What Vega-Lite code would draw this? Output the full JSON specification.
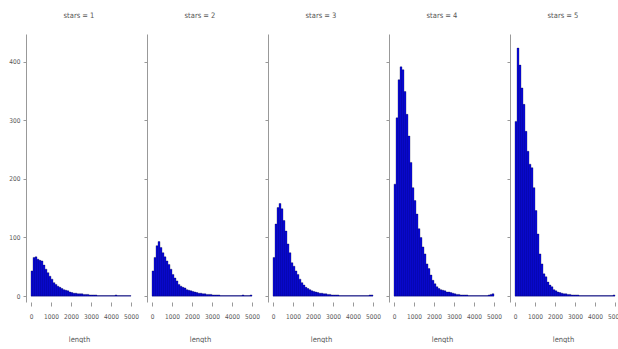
{
  "$schema": "https://vega.github.io/schema/vega-lite/v6.json",
  "padding": {"left": 8, "top": 11, "right": 0, "bottom": 0},
  "bounds": "flush",
  "config": {
    "view": {"stroke": null},
    "font": "DejaVu Sans Condensed, Liberation Sans, sans-serif",
    "axis": {"labelFont": "DejaVu Sans Condensed, Liberation Sans, sans-serif", "titleFont": "DejaVu Sans Condensed, Liberation Sans, sans-serif", "labelFontSize": 6.5, "labelColor": "#555", "tickColor": "#999", "domainColor": "#999", "grid": false, "tickSize": 3, "labelPadding": 3, "labelOverlap": false, "labelFlush": false, "format": "d"},
    "axisX": {"tickSize": 4, "labelPadding": 7, "titlePadding": 16},
    "title": {"font": "DejaVu Sans Condensed, Liberation Sans, sans-serif", "fontSize": 7.5, "fontWeight": "normal", "color": "#555", "offset": 15}
  },
  "data": {"values": [
    {"stars":1,"lo":0,"hi":100,"count":43},{"stars":1,"lo":100,"hi":200,"count":66},{"stars":1,"lo":200,"hi":300,"count":67},{"stars":1,"lo":300,"hi":400,"count":63},{"stars":1,"lo":400,"hi":500,"count":61},{"stars":1,"lo":500,"hi":600,"count":60},{"stars":1,"lo":600,"hi":700,"count":53},{"stars":1,"lo":700,"hi":800,"count":46},{"stars":1,"lo":800,"hi":900,"count":40},{"stars":1,"lo":900,"hi":1000,"count":34},
    {"stars":1,"lo":1000,"hi":1100,"count":29},{"stars":1,"lo":1100,"hi":1200,"count":23},{"stars":1,"lo":1200,"hi":1300,"count":20},{"stars":1,"lo":1300,"hi":1400,"count":17},{"stars":1,"lo":1400,"hi":1500,"count":15},{"stars":1,"lo":1500,"hi":1600,"count":13},{"stars":1,"lo":1600,"hi":1700,"count":11},{"stars":1,"lo":1700,"hi":1800,"count":10},{"stars":1,"lo":1800,"hi":1900,"count":9},{"stars":1,"lo":1900,"hi":2000,"count":7},
    {"stars":1,"lo":2000,"hi":2100,"count":6},{"stars":1,"lo":2100,"hi":2200,"count":5},{"stars":1,"lo":2200,"hi":2300,"count":5},{"stars":1,"lo":2300,"hi":2400,"count":4},{"stars":1,"lo":2400,"hi":2500,"count":4},{"stars":1,"lo":2500,"hi":2600,"count":4},{"stars":1,"lo":2600,"hi":2700,"count":3},{"stars":1,"lo":2700,"hi":2800,"count":3},{"stars":1,"lo":2800,"hi":2900,"count":3},{"stars":1,"lo":2900,"hi":3000,"count":2},
    {"stars":1,"lo":3000,"hi":3100,"count":2},{"stars":1,"lo":3100,"hi":3200,"count":2},{"stars":1,"lo":3200,"hi":3300,"count":2},{"stars":1,"lo":3300,"hi":3400,"count":1},{"stars":1,"lo":3400,"hi":3500,"count":1},{"stars":1,"lo":3500,"hi":3600,"count":1},{"stars":1,"lo":3600,"hi":3700,"count":1},{"stars":1,"lo":3700,"hi":3800,"count":1},{"stars":1,"lo":3800,"hi":3900,"count":1},{"stars":1,"lo":3900,"hi":4000,"count":1},
    {"stars":1,"lo":4000,"hi":4100,"count":1},{"stars":1,"lo":4100,"hi":4200,"count":1},{"stars":1,"lo":4200,"hi":4300,"count":2},{"stars":1,"lo":4300,"hi":4400,"count":1},{"stars":1,"lo":4400,"hi":4500,"count":1},{"stars":1,"lo":4500,"hi":4600,"count":1},{"stars":1,"lo":4600,"hi":4700,"count":1},{"stars":1,"lo":4700,"hi":4800,"count":1},{"stars":1,"lo":4800,"hi":4900,"count":1},{"stars":1,"lo":4900,"hi":5000,"count":1},

    {"stars":2,"lo":0,"hi":100,"count":43},{"stars":2,"lo":100,"hi":200,"count":66},{"stars":2,"lo":200,"hi":300,"count":86},{"stars":2,"lo":300,"hi":400,"count":93},{"stars":2,"lo":400,"hi":500,"count":83},{"stars":2,"lo":500,"hi":600,"count":74},{"stars":2,"lo":600,"hi":700,"count":67},{"stars":2,"lo":700,"hi":800,"count":60},{"stars":2,"lo":800,"hi":900,"count":54},{"stars":2,"lo":900,"hi":1000,"count":46},
    {"stars":2,"lo":1000,"hi":1100,"count":37},{"stars":2,"lo":1100,"hi":1200,"count":31},{"stars":2,"lo":1200,"hi":1300,"count":26},{"stars":2,"lo":1300,"hi":1400,"count":20},{"stars":2,"lo":1400,"hi":1500,"count":17},{"stars":2,"lo":1500,"hi":1600,"count":15},{"stars":2,"lo":1600,"hi":1700,"count":14},{"stars":2,"lo":1700,"hi":1800,"count":11},{"stars":2,"lo":1800,"hi":1900,"count":10},{"stars":2,"lo":1900,"hi":2000,"count":9},
    {"stars":2,"lo":2000,"hi":2100,"count":8},{"stars":2,"lo":2100,"hi":2200,"count":7},{"stars":2,"lo":2200,"hi":2300,"count":6},{"stars":2,"lo":2300,"hi":2400,"count":5},{"stars":2,"lo":2400,"hi":2500,"count":5},{"stars":2,"lo":2500,"hi":2600,"count":4},{"stars":2,"lo":2600,"hi":2700,"count":4},{"stars":2,"lo":2700,"hi":2800,"count":3},{"stars":2,"lo":2800,"hi":2900,"count":3},{"stars":2,"lo":2900,"hi":3000,"count":3},
    {"stars":2,"lo":3000,"hi":3100,"count":2},{"stars":2,"lo":3100,"hi":3200,"count":2},{"stars":2,"lo":3200,"hi":3300,"count":2},{"stars":2,"lo":3300,"hi":3400,"count":2},{"stars":2,"lo":3400,"hi":3500,"count":1},{"stars":2,"lo":3500,"hi":3600,"count":1},{"stars":2,"lo":3600,"hi":3700,"count":1},{"stars":2,"lo":3700,"hi":3800,"count":1},{"stars":2,"lo":3800,"hi":3900,"count":1},{"stars":2,"lo":3900,"hi":4000,"count":1},
    {"stars":2,"lo":4000,"hi":4100,"count":1},{"stars":2,"lo":4100,"hi":4200,"count":1},{"stars":2,"lo":4200,"hi":4300,"count":1},{"stars":2,"lo":4300,"hi":4400,"count":1},{"stars":2,"lo":4400,"hi":4500,"count":1},{"stars":2,"lo":4500,"hi":4600,"count":2},{"stars":2,"lo":4600,"hi":4700,"count":1},{"stars":2,"lo":4700,"hi":4800,"count":1},{"stars":2,"lo":4800,"hi":4900,"count":1},{"stars":2,"lo":4900,"hi":5000,"count":2},

    {"stars":3,"lo":0,"hi":100,"count":66},{"stars":3,"lo":100,"hi":200,"count":123},{"stars":3,"lo":200,"hi":300,"count":151},{"stars":3,"lo":300,"hi":400,"count":158},{"stars":3,"lo":400,"hi":500,"count":149},{"stars":3,"lo":500,"hi":600,"count":129},{"stars":3,"lo":600,"hi":700,"count":111},{"stars":3,"lo":700,"hi":800,"count":89},{"stars":3,"lo":800,"hi":900,"count":74},{"stars":3,"lo":900,"hi":1000,"count":57},
    {"stars":3,"lo":1000,"hi":1100,"count":51},{"stars":3,"lo":1100,"hi":1200,"count":43},{"stars":3,"lo":1200,"hi":1300,"count":37},{"stars":3,"lo":1300,"hi":1400,"count":29},{"stars":3,"lo":1400,"hi":1500,"count":23},{"stars":3,"lo":1500,"hi":1600,"count":19},{"stars":3,"lo":1600,"hi":1700,"count":15},{"stars":3,"lo":1700,"hi":1800,"count":13},{"stars":3,"lo":1800,"hi":1900,"count":11},{"stars":3,"lo":1900,"hi":2000,"count":9},
    {"stars":3,"lo":2000,"hi":2100,"count":8},{"stars":3,"lo":2100,"hi":2200,"count":7},{"stars":3,"lo":2200,"hi":2300,"count":6},{"stars":3,"lo":2300,"hi":2400,"count":5},{"stars":3,"lo":2400,"hi":2500,"count":5},{"stars":3,"lo":2500,"hi":2600,"count":4},{"stars":3,"lo":2600,"hi":2700,"count":4},{"stars":3,"lo":2700,"hi":2800,"count":3},{"stars":3,"lo":2800,"hi":2900,"count":3},{"stars":3,"lo":2900,"hi":3000,"count":2},
    {"stars":3,"lo":3000,"hi":3100,"count":2},{"stars":3,"lo":3100,"hi":3200,"count":2},{"stars":3,"lo":3200,"hi":3300,"count":2},{"stars":3,"lo":3300,"hi":3400,"count":1},{"stars":3,"lo":3400,"hi":3500,"count":1},{"stars":3,"lo":3500,"hi":3600,"count":1},{"stars":3,"lo":3600,"hi":3700,"count":1},{"stars":3,"lo":3700,"hi":3800,"count":1},{"stars":3,"lo":3800,"hi":3900,"count":1},{"stars":3,"lo":3900,"hi":4000,"count":1},
    {"stars":3,"lo":4000,"hi":4100,"count":1},{"stars":3,"lo":4100,"hi":4200,"count":1},{"stars":3,"lo":4200,"hi":4300,"count":1},{"stars":3,"lo":4300,"hi":4400,"count":1},{"stars":3,"lo":4400,"hi":4500,"count":1},{"stars":3,"lo":4500,"hi":4600,"count":1},{"stars":3,"lo":4600,"hi":4700,"count":1},{"stars":3,"lo":4700,"hi":4800,"count":1},{"stars":3,"lo":4800,"hi":4900,"count":2},{"stars":3,"lo":4900,"hi":5000,"count":2},

    {"stars":4,"lo":0,"hi":100,"count":191},{"stars":4,"lo":100,"hi":200,"count":304},{"stars":4,"lo":200,"hi":300,"count":369},{"stars":4,"lo":300,"hi":400,"count":391},{"stars":4,"lo":400,"hi":500,"count":386},{"stars":4,"lo":500,"hi":600,"count":349},{"stars":4,"lo":600,"hi":700,"count":310},{"stars":4,"lo":700,"hi":800,"count":273},{"stars":4,"lo":800,"hi":900,"count":228},{"stars":4,"lo":900,"hi":1000,"count":185},
    {"stars":4,"lo":1000,"hi":1100,"count":163},{"stars":4,"lo":1100,"hi":1200,"count":140},{"stars":4,"lo":1200,"hi":1300,"count":115},{"stars":4,"lo":1300,"hi":1400,"count":100},{"stars":4,"lo":1400,"hi":1500,"count":84},{"stars":4,"lo":1500,"hi":1600,"count":72},{"stars":4,"lo":1600,"hi":1700,"count":55},{"stars":4,"lo":1700,"hi":1800,"count":47},{"stars":4,"lo":1800,"hi":1900,"count":36},{"stars":4,"lo":1900,"hi":2000,"count":27},
    {"stars":4,"lo":2000,"hi":2100,"count":21},{"stars":4,"lo":2100,"hi":2200,"count":16},{"stars":4,"lo":2200,"hi":2300,"count":13},{"stars":4,"lo":2300,"hi":2400,"count":11},{"stars":4,"lo":2400,"hi":2500,"count":10},{"stars":4,"lo":2500,"hi":2600,"count":9},{"stars":4,"lo":2600,"hi":2700,"count":7},{"stars":4,"lo":2700,"hi":2800,"count":7},{"stars":4,"lo":2800,"hi":2900,"count":6},{"stars":4,"lo":2900,"hi":3000,"count":5},
    {"stars":4,"lo":3000,"hi":3100,"count":4},{"stars":4,"lo":3100,"hi":3200,"count":3},{"stars":4,"lo":3200,"hi":3300,"count":3},{"stars":4,"lo":3300,"hi":3400,"count":2},{"stars":4,"lo":3400,"hi":3500,"count":2},{"stars":4,"lo":3500,"hi":3600,"count":2},{"stars":4,"lo":3600,"hi":3700,"count":2},{"stars":4,"lo":3700,"hi":3800,"count":1},{"stars":4,"lo":3800,"hi":3900,"count":1},{"stars":4,"lo":3900,"hi":4000,"count":1},
    {"stars":4,"lo":4000,"hi":4100,"count":1},{"stars":4,"lo":4100,"hi":4200,"count":1},{"stars":4,"lo":4200,"hi":4300,"count":1},{"stars":4,"lo":4300,"hi":4400,"count":1},{"stars":4,"lo":4400,"hi":4500,"count":1},{"stars":4,"lo":4500,"hi":4600,"count":1},{"stars":4,"lo":4600,"hi":4700,"count":1},{"stars":4,"lo":4700,"hi":4800,"count":2},{"stars":4,"lo":4800,"hi":4900,"count":3},{"stars":4,"lo":4900,"hi":5000,"count":4},

    {"stars":5,"lo":0,"hi":100,"count":298},{"stars":5,"lo":100,"hi":200,"count":423},{"stars":5,"lo":200,"hi":300,"count":394},{"stars":5,"lo":300,"hi":400,"count":355},{"stars":5,"lo":400,"hi":500,"count":327},{"stars":5,"lo":500,"hi":600,"count":281},{"stars":5,"lo":600,"hi":700,"count":247},{"stars":5,"lo":700,"hi":800,"count":225},{"stars":5,"lo":800,"hi":900,"count":219},{"stars":5,"lo":900,"hi":1000,"count":185},
    {"stars":5,"lo":1000,"hi":1100,"count":146},{"stars":5,"lo":1100,"hi":1200,"count":106},{"stars":5,"lo":1200,"hi":1300,"count":72},{"stars":5,"lo":1300,"hi":1400,"count":55},{"stars":5,"lo":1400,"hi":1500,"count":38},{"stars":5,"lo":1500,"hi":1600,"count":33},{"stars":5,"lo":1600,"hi":1700,"count":24},{"stars":5,"lo":1700,"hi":1800,"count":19},{"stars":5,"lo":1800,"hi":1900,"count":16},{"stars":5,"lo":1900,"hi":2000,"count":11},
    {"stars":5,"lo":2000,"hi":2100,"count":9},{"stars":5,"lo":2100,"hi":2200,"count":7},{"stars":5,"lo":2200,"hi":2300,"count":6},{"stars":5,"lo":2300,"hi":2400,"count":5},{"stars":5,"lo":2400,"hi":2500,"count":4},{"stars":5,"lo":2500,"hi":2600,"count":4},{"stars":5,"lo":2600,"hi":2700,"count":3},{"stars":5,"lo":2700,"hi":2800,"count":3},{"stars":5,"lo":2800,"hi":2900,"count":2},{"stars":5,"lo":2900,"hi":3000,"count":2},
    {"stars":5,"lo":3000,"hi":3100,"count":2},{"stars":5,"lo":3100,"hi":3200,"count":2},{"stars":5,"lo":3200,"hi":3300,"count":1},{"stars":5,"lo":3300,"hi":3400,"count":1},{"stars":5,"lo":3400,"hi":3500,"count":1},{"stars":5,"lo":3500,"hi":3600,"count":1},{"stars":5,"lo":3600,"hi":3700,"count":1},{"stars":5,"lo":3700,"hi":3800,"count":1},{"stars":5,"lo":3800,"hi":3900,"count":1},{"stars":5,"lo":3900,"hi":4000,"count":1},
    {"stars":5,"lo":4000,"hi":4100,"count":1},{"stars":5,"lo":4100,"hi":4200,"count":1},{"stars":5,"lo":4200,"hi":4300,"count":1},{"stars":5,"lo":4300,"hi":4400,"count":1},{"stars":5,"lo":4400,"hi":4500,"count":1},{"stars":5,"lo":4500,"hi":4600,"count":1},{"stars":5,"lo":4600,"hi":4700,"count":1},{"stars":5,"lo":4700,"hi":4800,"count":1},{"stars":5,"lo":4800,"hi":4900,"count":1},{"stars":5,"lo":4900,"hi":5000,"count":2}
  ]},
  "spacing": 15,
  "hconcat": [
    {
      "title": "stars = 1", "width": 106, "height": 268,
      "transform": [{"filter": "datum.stars == 1"}],
      "mark": {"type": "bar", "color": "#0a0ae6", "stroke": "#000033", "strokeWidth": 0.3},
      "encoding": {
        "x": {"field": "lo", "type": "quantitative", "scale": {"domain": [-250, 5050], "nice": false}, "axis": {"title": "length", "titleFontSize": 7.5, "titleFontWeight": "normal", "titleColor": "#555", "values": [0,1000,2000,3000,4000,5000], "domain": false}},
        "x2": {"field": "hi"},
        "y": {"field": "count", "type": "quantitative", "scale": {"domain": [-10, 447], "nice": false, "zero": false}, "axis": {"title": null, "values": [0,100,200,300,400]}},
        "y2": {"datum": 0}
      }
    },
    {
      "title": "stars = 2", "width": 106, "height": 268,
      "transform": [{"filter": "datum.stars == 2"}],
      "mark": {"type": "bar", "color": "#0a0ae6", "stroke": "#000033", "strokeWidth": 0.3},
      "encoding": {
        "x": {"field": "lo", "type": "quantitative", "scale": {"domain": [-250, 5050], "nice": false}, "axis": {"title": "length", "titleFontSize": 7.5, "titleFontWeight": "normal", "titleColor": "#555", "values": [0,1000,2000,3000,4000,5000], "domain": false}},
        "x2": {"field": "hi"},
        "y": {"field": "count", "type": "quantitative", "scale": {"domain": [-10, 447], "nice": false, "zero": false}, "axis": {"title": null, "labels": false, "values": [0,100,200,300,400]}},
        "y2": {"datum": 0}
      }
    },
    {
      "title": "stars = 3", "width": 106, "height": 268,
      "transform": [{"filter": "datum.stars == 3"}],
      "mark": {"type": "bar", "color": "#0a0ae6", "stroke": "#000033", "strokeWidth": 0.3},
      "encoding": {
        "x": {"field": "lo", "type": "quantitative", "scale": {"domain": [-250, 5050], "nice": false}, "axis": {"title": "length", "titleFontSize": 7.5, "titleFontWeight": "normal", "titleColor": "#555", "values": [0,1000,2000,3000,4000,5000], "domain": false}},
        "x2": {"field": "hi"},
        "y": {"field": "count", "type": "quantitative", "scale": {"domain": [-10, 447], "nice": false, "zero": false}, "axis": {"title": null, "labels": false, "values": [0,100,200,300,400]}},
        "y2": {"datum": 0}
      }
    },
    {
      "title": "stars = 4", "width": 106, "height": 268,
      "transform": [{"filter": "datum.stars == 4"}],
      "mark": {"type": "bar", "color": "#0a0ae6", "stroke": "#000033", "strokeWidth": 0.3},
      "encoding": {
        "x": {"field": "lo", "type": "quantitative", "scale": {"domain": [-250, 5050], "nice": false}, "axis": {"title": "length", "titleFontSize": 7.5, "titleFontWeight": "normal", "titleColor": "#555", "values": [0,1000,2000,3000,4000,5000], "domain": false}},
        "x2": {"field": "hi"},
        "y": {"field": "count", "type": "quantitative", "scale": {"domain": [-10, 447], "nice": false, "zero": false}, "axis": {"title": null, "labels": false, "values": [0,100,200,300,400]}},
        "y2": {"datum": 0}
      }
    },
    {
      "title": "stars = 5", "width": 106, "height": 268,
      "transform": [{"filter": "datum.stars == 5"}],
      "mark": {"type": "bar", "color": "#0a0ae6", "stroke": "#000033", "strokeWidth": 0.3},
      "encoding": {
        "x": {"field": "lo", "type": "quantitative", "scale": {"domain": [-250, 5050], "nice": false}, "axis": {"title": "length", "titleFontSize": 7.5, "titleFontWeight": "normal", "titleColor": "#555", "values": [0,1000,2000,3000,4000,5000], "domain": false}},
        "x2": {"field": "hi"},
        "y": {"field": "count", "type": "quantitative", "scale": {"domain": [-10, 447], "nice": false, "zero": false}, "axis": {"title": null, "labels": false, "values": [0,100,200,300,400]}},
        "y2": {"datum": 0}
      }
    }
  ]
}
